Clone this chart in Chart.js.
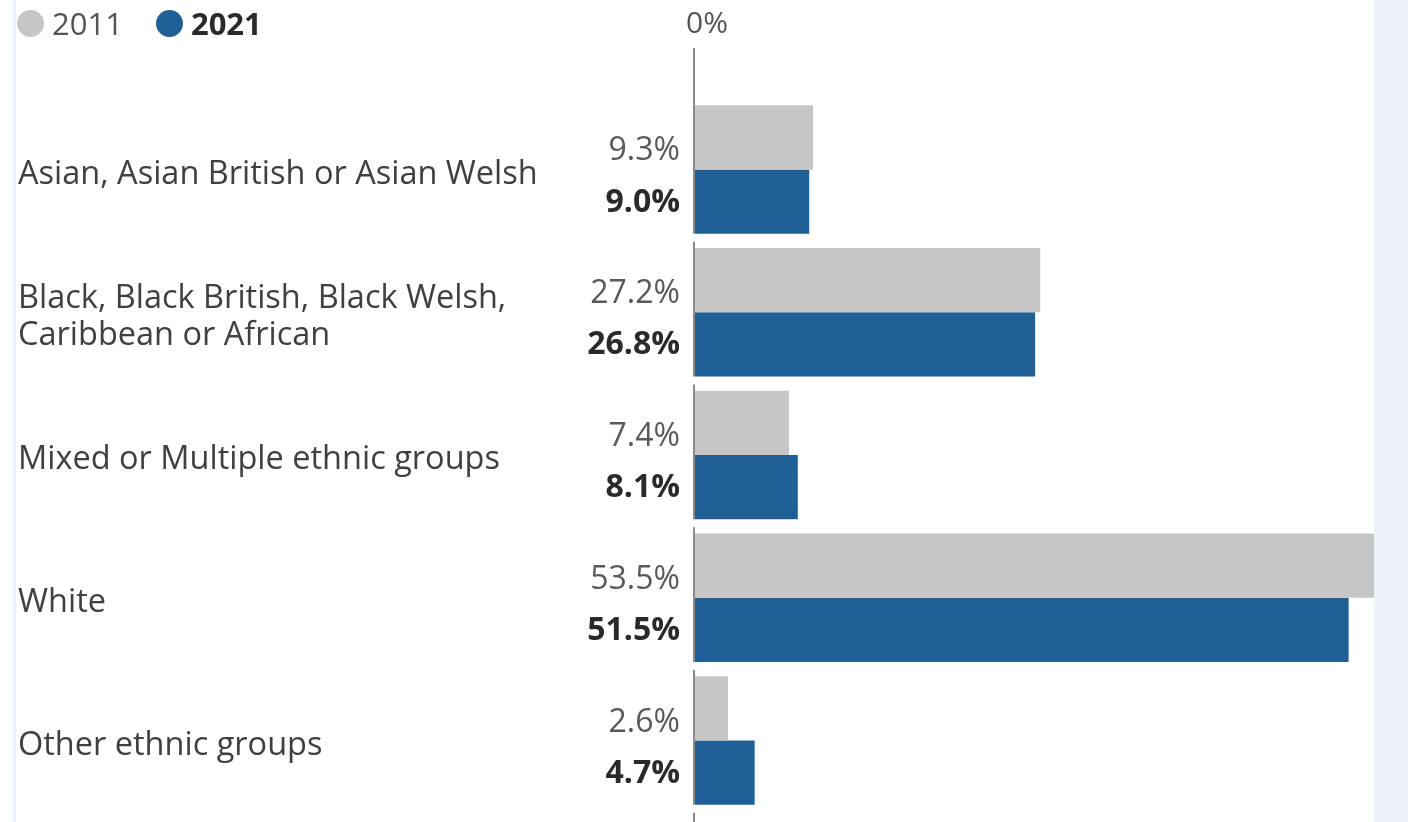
<!DOCTYPE html>
<html>
<head>
<meta charset="utf-8">
<script src="https://cdn.jsdelivr.net/npm/chart.js@4.4.1/dist/chart.umd.min.js"></script>
<style>
    html, body { margin: 0; padding: 0; background: #fff; }
    body { width: 1408px; height: 822px; position: relative; overflow: hidden; font-family: 'Open Sans', sans-serif; }
    .strip { position: absolute; left: 13px; top: 0; width: 3px; height: 822px; background: #edf1f9; }
    .panel { position: absolute; left: 1374px; top: 0; width: 34px; height: 822px; background: #edf1fa; }
    .legend { position: absolute; left: 17px; top: 3px; font-size: 31px; line-height: 40px; color: #555; display: flex; align-items: center; }
    .legend .dot { display: inline-block; width: 27px; height: 27px; border-radius: 50%; margin-right: 8px; }
    .legend .item { display: flex; align-items: center; margin-right: 33px; }
    .wrap { position: absolute; left: 0; top: 0; width: 1408px; height: 822px; }
</style>
</head>
<body>
<div class="strip"></div>
<div class="panel"></div>
<div class="wrap"><canvas id="ethnicChart"></canvas></div>
<div class="legend">
    <span class="item"><span class="dot" style="background:#c6c6c6"></span>2011</span>
    <span class="item" style="font-weight:700;color:#2a2a2a"><span class="dot" style="background:#206095"></span>2021</span>
</div>
<script>
// Data
const categories = [
    'Asian, Asian British or Asian Welsh',
    ['Black, Black British, Black Welsh,', 'Caribbean or African'],
    'Mixed or Multiple ethnic groups',
    'White',
    'Other ethnic groups'
];
const values2011 = [9.3, 27.2, 7.4, 53.5, 2.6];
const values2021 = [9.0, 26.8, 8.1, 51.5, 4.7];

const GREY = '#c6c6c6';
const BLUE = '#206095';

// Axis line on the left of the bars, broken after every category
const axisLinePlugin = {
    id: 'axisLine',
    afterDatasetsDraw(chart) {
        const ctx = chart.ctx;
        const x = chart.scales.x.getPixelForValue(0) - 1;
        const blue = chart.getDatasetMeta(1).data;
        ctx.save();
        ctx.strokeStyle = '#8a8a8a';
        ctx.lineWidth = 2;
        let top = 48;
        blue.forEach(bar => {
            const bottom = bar.y + bar.height / 2;
            ctx.beginPath();
            ctx.moveTo(x, top);
            ctx.lineTo(x, bottom);
            ctx.stroke();
            top = bottom + 8;
        });
        ctx.beginPath();
        ctx.moveTo(x, top);
        ctx.lineTo(x, chart.height);
        ctx.stroke();
        ctx.restore();
    }
};

// Value labels to the left of the axis
const valueLabelPlugin = {
    id: 'valueLabels',
    afterDatasetsDraw(chart) {
        const ctx = chart.ctx;
        const x = chart.chartArea.left - 15;
        ctx.save();
        ctx.textAlign = 'right';
        ctx.textBaseline = 'middle';
        chart.getDatasetMeta(0).data.forEach((bar, i) => {
            ctx.font = '400 32px "Open Sans"';
            ctx.fillStyle = '#595959';
            ctx.fillText(values2011[i].toFixed(1) + '%', x, bar.y + 14);
        });
        chart.getDatasetMeta(1).data.forEach((bar, i) => {
            ctx.font = '700 32px "Open Sans"';
            ctx.fillStyle = '#2a2a2a';
            ctx.fillText(values2021[i].toFixed(1) + '%', x, bar.y + 1);
        });
        ctx.restore();
    }
};

new Chart(document.getElementById('ethnicChart'), {
    type: 'bar',
    data: {
        labels: categories,
        datasets: [
            { label: '2011', data: values2011, backgroundColor: GREY, categoryPercentage: 0.9, barPercentage: 1 },
            { label: '2021', data: values2021, backgroundColor: BLUE, categoryPercentage: 0.9, barPercentage: 1 }
        ]
    },
    options: {
        indexAxis: 'y',
        responsive: true,
        maintainAspectRatio: false,
        animation: false,
        layout: { padding: { left: 18, right: 34, top: 0, bottom: 10 } },
        plugins: {
            legend: { display: false },
            tooltip: { enabled: false }
        },
        scales: {
            x: {
                position: 'top',
                min: 0,
                max: Math.max(...values2011, ...values2021),
                grid: { display: false, drawTicks: false },
                border: { display: false },
                afterBuildTicks: scale => { scale.ticks = [{ value: 0 }]; },
                afterFit: scale => { scale.height = 98; },
                ticks: {
                    padding: 56,
                    align: 'start',
                    labelOffset: -9,
                    color: '#555',
                    font: { family: 'Open Sans', size: 30 },
                    callback: v => v + '%'
                }
            },
            y: {
                grid: { display: false, drawTicks: false },
                border: { display: false },
                afterFit: scale => {
                    scale.width = 677;
                    scale.paddingTop = 0;
                    scale.paddingBottom = 0;
                },
                ticks: {
                    crossAlign: 'far',
                    labelOffset: 5,
                    color: '#404040',
                    font: { family: 'Open Sans', size: 32.5, lineHeight: 1.14 }
                }
            }
        }
    },
    plugins: [axisLinePlugin, valueLabelPlugin]
});
</script>
</body>
</html>
